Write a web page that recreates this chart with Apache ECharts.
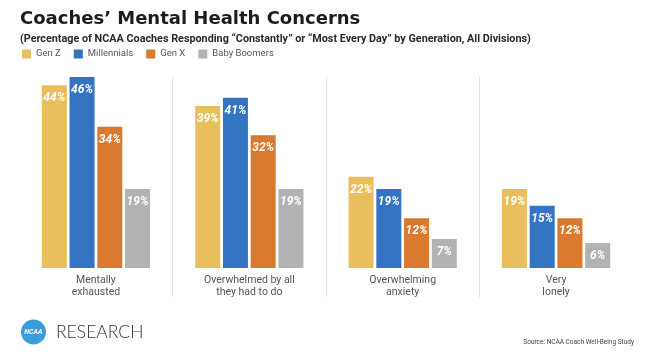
<!DOCTYPE html>
<html>
<head>
<meta charset="utf-8">
<script src="https://cdn.jsdelivr.net/npm/echarts@6/dist/echarts.min.js"></script>
<style>
  html, body { margin: 0; padding: 0; background: #fff; }
  #chart { width: 647px; height: 356px; }
</style>
</head>
<body>
<div id="chart"></div>
<script>
// Survey concern categories (two-line axis labels)
const categories = [
  'Mentally\nexhausted',
  'Overwhelmed by all\nthey had to do',
  'Overwhelming\nanxiety',
  'Very\nlonely'
];

// Percent of coaches responding "Constantly" or "Most Every Day"
const genZ        = [44, 39, 22, 19];
const millennials = [46, 41, 19, 15];
const genX        = [34, 32, 12, 12];
const boomers     = [19, 19, 7, 6];

const seriesNames = ['Gen Z', 'Millennials', 'Gen X', 'Baby Boomers'];
const seriesColors = ['#E9BF5E', '#3375C3', '#DB7A2F', '#B2B2B2'];
const seriesData = [genZ, millennials, genX, boomers];

const chart = echarts.init(document.getElementById('chart'), null, { renderer: 'canvas' });

const FONT = 'Roboto, "Liberation Sans", sans-serif';

const option = {
  backgroundColor: '#ffffff',
  animation: false,
  title: {
    text: 'Coaches\u2019 Mental Health Concerns',
    subtext: '(Percentage of NCAA Coaches Responding \u201cConstantly\u201d or \u201cMost Every Day\u201d by Generation, All Divisions)',
    left: 20,
    top: 10,
    padding: 0,
    itemGap: 6,
    textStyle: {
      fontFamily: '"DejaVu Sans", sans-serif',
      fontSize: 18,
      fontWeight: 'bold',
      color: '#1c1c1c'
    },
    subtextStyle: {
      fontFamily: FONT,
      fontSize: 10.8,
      fontWeight: 'bold',
      color: '#2a2a2a'
    }
  },
  legend: {
    left: 22,
    top: 49,
    padding: 0,
    itemWidth: 9,
    itemHeight: 9,
    itemGap: 13,
    icon: 'rect',
    textStyle: { fontFamily: FONT, fontSize: 9.5, color: '#555' },
    data: seriesNames
  },
  grid: [
    // bars sit on the zero line of this grid
    { left: 19.25, right: 14.25, top: 77, bottom: 88 },
    // taller twin grid that only carries the group separators
    { left: 19.25, right: 14.25, top: 77, bottom: 59 }
  ],
  xAxis: [
    {
      type: 'category',
      gridIndex: 0,
      data: categories,
      axisLine: { show: false },
      axisTick: { show: false },
      axisLabel: {
        margin: 6,
        fontFamily: FONT,
        fontSize: 10.5,
        lineHeight: 12,
        color: '#555'
      },
      splitLine: { show: false }
    },
    {
      type: 'category',
      gridIndex: 1,
      data: categories,
      axisLine: { show: false },
      axisTick: { show: false },
      axisLabel: { show: false },
      splitLine: {
        show: true,
        showMinLine: false,
        showMaxLine: false,
        lineStyle: { color: '#e2e2e2', width: 1 }
      }
    }
  ],
  yAxis: [
    { type: 'value', gridIndex: 0, min: 0, max: 46, show: false, splitLine: { show: false } },
    { type: 'value', gridIndex: 1, min: 0, max: 1, show: false, splitLine: { show: false } }
  ],
  series: seriesData.map((vals, i) => ({
    name: seriesNames[i],
    type: 'bar',
    xAxisIndex: 0,
    yAxisIndex: 0,
    data: vals,
    barWidth: 25,
    barGap: '11%',
    itemStyle: { color: seriesColors[i] },
    label: {
      show: true,
      position: 'insideTop',
      distance: 7,
      formatter: '{c}%',
      color: '#ffffff',
      fontFamily: FONT,
      fontSize: 12,
      fontWeight: 'bold',
      fontStyle: 'italic'
    }
  })),
  graphic: [
    {
      type: 'circle',
      shape: { cx: 33.5, cy: 332, r: 12.5 },
      style: { fill: '#3C9BDA' }
    },
    {
      type: 'text',
      x: 33.5,
      y: 332,
      style: {
        text: 'NCAA',
        fill: '#ffffff',
        font: 'italic bold 7px ' + FONT,
        align: 'center',
        verticalAlign: 'middle'
      }
    },
    {
      type: 'text',
      x: 56,
      y: 332,
      style: {
        text: 'RESEARCH',
        fill: '#333333',
        font: '300 17.5px Lato, ' + FONT,
        verticalAlign: 'middle'
      }
    },
    {
      type: 'text',
      x: 634,
      y: 342,
      style: {
        text: 'Source: NCAA Coach Well-Being Study',
        fill: '#444444',
        font: '6.5px ' + FONT,
        align: 'right',
        verticalAlign: 'middle'
      }
    }
  ]
};

chart.setOption(option);
</script>
</body>
</html>
